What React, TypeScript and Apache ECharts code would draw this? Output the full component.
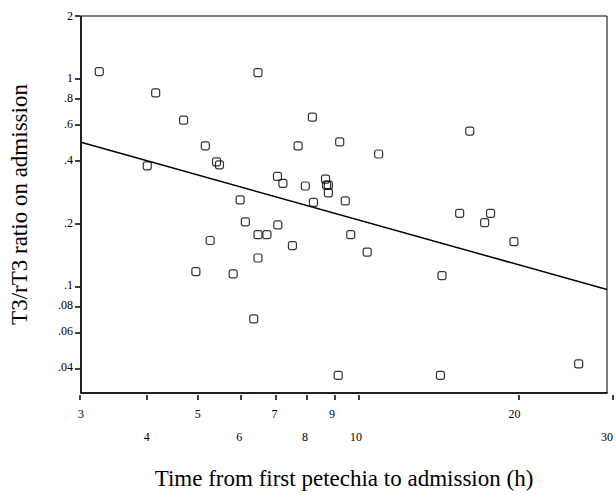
import React, { useEffect, useRef } from "react";
import * as echarts from "echarts";

// Data (hours, T3/rT3 ratio)
const hours = [3.25, 4.16, 4.70, 5.17, 5.43, 5.50, 4.01, 6.02, 6.51, 8.26, 7.76, 9.31, 11.04, 7.09, 7.26, 8.01, 8.75, 8.79, 8.86, 8.86, 8.30, 9.54, 6.16, 5.28, 4.96, 5.84, 6.39, 6.51, 6.77, 7.10, 7.57, 6.51, 9.77, 10.50, 9.25, 16.45, 15.74, 18.02, 17.56, 19.96, 14.57, 14.47, 26.5];
const ratios = [1.077, 0.849, 0.627, 0.471, 0.394, 0.381, 0.377, 0.258, 1.065, 0.648, 0.471, 0.492, 0.430, 0.335, 0.310, 0.301, 0.325, 0.304, 0.304, 0.279, 0.251, 0.255, 0.202, 0.164, 0.116, 0.113, 0.0685, 0.175, 0.175, 0.195, 0.155, 0.135, 0.175, 0.144, 0.0365, 0.555, 0.222, 0.222, 0.200, 0.162, 0.111, 0.0365, 0.0415];

// Regression line end points
const trendX = [3, 30];
const trendY = [0.49, 0.095];

// Tick labels
const xTicks = [3, 4, 5, 6, 7, 8, 9, 10, 20, 30];
const xTicksLowerRow = [4, 6, 8, 10, 30];
const yTicks = [2, 1, 0.8, 0.6, 0.4, 0.2, 0.1, 0.08, 0.06, 0.04];

const xMin = 3;
const xMax = 30;
const yMin = 0.03;
const yMax = 2;

const xTitle = "Time from first petechia to admission (h)";
const yTitle = "T3/rT3 ratio on admission";

const FONT = "'Liberation Serif', 'Times New Roman', serif";

export default function App() {
  const ref = useRef<HTMLDivElement>(null);

  useEffect(() => {
    if (!ref.current) return;
    const chart = echarts.init(ref.current, undefined, { renderer: "svg" });
    const axisLineStyle = { color: "#000", width: 1.5 };
    const points = hours.map((h, i) => [h, ratios[i]]);
    const trend = trendX.map((x, i) => [x, trendY[i]]);
    const gridBox = { left: 80, right: 3, top: 16, bottom: 100 };
    chart.setOption({
      animation: false,
      backgroundColor: "#fff",
      grid: [
        {
          ...gridBox,
          show: true,
          borderColor: "#000",
          borderWidth: 1,
          backgroundColor: "transparent",
        },
        { ...gridBox, show: false },
      ],
      xAxis: [
        {
          type: "log",
          logBase: 10,
          min: xMin,
          max: xMax,
          gridIndex: 0,
          name: xTitle,
          nameLocation: "middle",
          nameGap: 74,
          nameTextStyle: { fontFamily: FONT, fontSize: 23, color: "#000" },
          axisLine: { show: true, onZero: false, lineStyle: axisLineStyle },
          axisTick: { show: false },
          minorTick: { show: false },
          splitLine: { show: false },
          axisLabel: {
            customValues: xTicks,
            margin: 9,
            fontFamily: FONT,
            fontSize: 12,
            color: "#000",
            lineHeight: 23,
            formatter: (v: number) => {
              const r = Math.round(v);
              return xTicksLowerRow.indexOf(r) >= 0 ? "\n" + r : String(r);
            },
          },
        },
        {
          type: "value",
          gridIndex: 1,
          min: Math.log10(xMin),
          max: Math.log10(xMax),
          axisLine: { show: false, onZero: false },
          axisTick: { show: true, length: 5, customValues: xTicks.map((t) => Math.log10(t)), lineStyle: axisLineStyle },
          axisLabel: { show: false },
          splitLine: { show: false },
        },
      ],
      yAxis: [
        {
          type: "log",
          logBase: 10,
          min: yMin,
          max: yMax,
          gridIndex: 0,
          name: yTitle,
          nameLocation: "middle",
          nameGap: 50,
          nameRotate: 90,
          nameTextStyle: { fontFamily: FONT, fontSize: 23, color: "#000" },
          axisLine: { show: true, onZero: false, lineStyle: axisLineStyle },
          axisTick: { show: false },
          minorTick: { show: false },
          splitLine: { show: false },
          axisLabel: {
            customValues: yTicks,
            margin: 8,
            fontFamily: FONT,
            fontSize: 12,
            color: "#000",
            formatter: (v: number) => {
              const r = Math.round(v * 100) / 100;
              return String(r).replace(/^0\./, ".");
            },
          },
        },
        {
          type: "value",
          gridIndex: 1,
          min: Math.log10(yMin),
          max: Math.log10(yMax),
          axisLine: { show: false, onZero: false },
          axisTick: { show: true, length: 5, customValues: yTicks.map((t) => Math.log10(t)), lineStyle: axisLineStyle },
          axisLabel: { show: false },
          splitLine: { show: false },
        },
      ],
      series: [
        {
          type: "scatter",
          xAxisIndex: 0,
          yAxisIndex: 0,
          data: points,
          symbol: "roundRect",
          symbolSize: 8,
          itemStyle: { color: "rgba(0,0,0,0)", borderColor: "#000", borderWidth: 1.2 },
          z: 3,
        },
        {
          type: "line",
          xAxisIndex: 0,
          yAxisIndex: 0,
          data: trend,
          showSymbol: false,
          symbol: "none",
          lineStyle: { color: "#000", width: 1.5 },
          z: 2,
        },
      ],
    });
    return () => chart.dispose();
  }, []);

  return (
    <div
      ref={ref}
      style={{ position: "fixed", left: 0, top: 0, width: 616, height: 495 }}
    />
  );
}
